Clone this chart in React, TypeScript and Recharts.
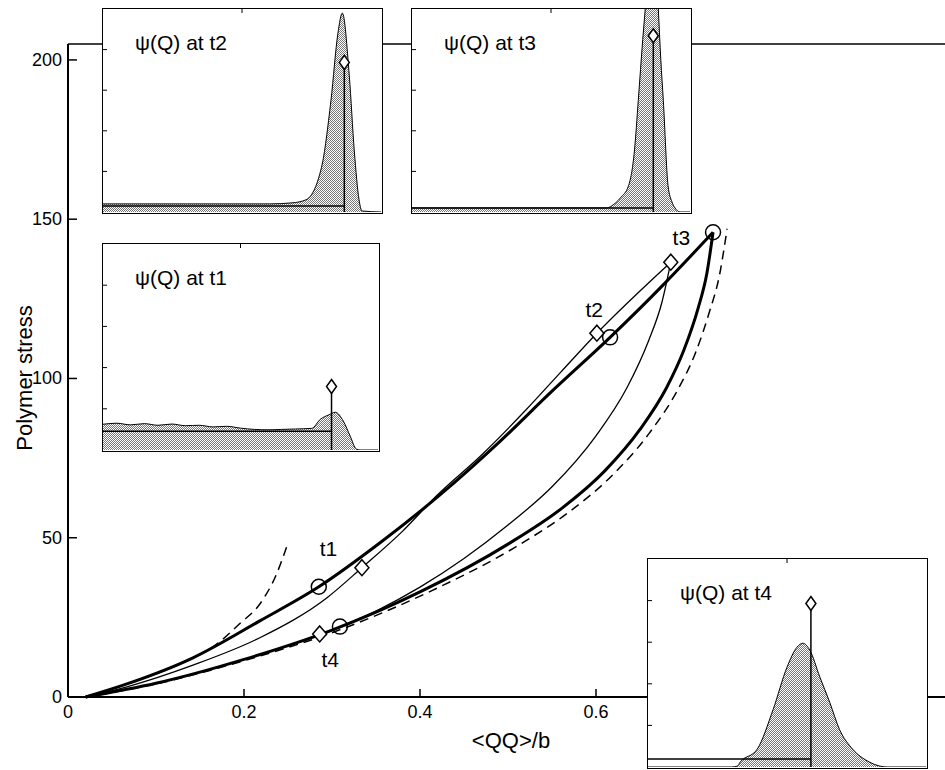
import { ComposedChart, AreaChart, Area, Line, Scatter, XAxis, YAxis, ReferenceLine, ReferenceDot } from "recharts";

const FONT = '"Liberation Sans", Arial, Helvetica, sans-serif';

// main panel: polymer stress against <QQ>/b
const xTicks = [0, 0.2, 0.4, 0.6, 0.8];
const yTicks = [0, 50, 100, 150, 200];

const thickUp = [
    { x: 0.02, y: 0 }, { x: 0.067, y: 4.1 }, { x: 0.142, y: 12.3 }, { x: 0.218, y: 23.9 },
    { x: 0.285, y: 34.6 }, { x: 0.355, y: 48.5 }, { x: 0.423, y: 63.5 }, { x: 0.49, y: 80 },
    { x: 0.55, y: 96 }, { x: 0.616, y: 112.9 }, { x: 0.675, y: 129 }, { x: 0.733, y: 145.9 },
];
const thickDown = [
    { x: 0.02, y: 0 }, { x: 0.1, y: 4.3 }, { x: 0.2, y: 11.8 }, { x: 0.3, y: 21 },
    { x: 0.4, y: 33 }, { x: 0.5, y: 48 }, { x: 0.56, y: 59 }, { x: 0.61, y: 71 },
    { x: 0.65, y: 84 }, { x: 0.68, y: 97 }, { x: 0.7, y: 109 }, { x: 0.716, y: 122 },
    { x: 0.726, y: 133 }, { x: 0.733, y: 145.9 },
];
const thinUp = [
    { x: 0.02, y: 0 }, { x: 0.067, y: 3.2 }, { x: 0.142, y: 10.0 }, { x: 0.218, y: 18.6 },
    { x: 0.294, y: 31.1 }, { x: 0.334, y: 40.6 }, { x: 0.38, y: 52 }, { x: 0.42, y: 63.5 },
    { x: 0.47, y: 76 }, { x: 0.52, y: 90 }, { x: 0.56, y: 102 }, { x: 0.601, y: 114.2 },
    { x: 0.685, y: 136.5 },
];
const thinDown = [
    { x: 0.02, y: 0 }, { x: 0.1, y: 4.3 }, { x: 0.2, y: 11.8 }, { x: 0.3, y: 21 },
    { x: 0.35, y: 27 }, { x: 0.4, y: 34.5 }, { x: 0.45, y: 43.5 }, { x: 0.5, y: 54 },
    { x: 0.55, y: 66 }, { x: 0.6, y: 82 }, { x: 0.635, y: 97 }, { x: 0.66, y: 112 },
    { x: 0.675, y: 124 }, { x: 0.685, y: 136.5 },
];
const dashedRight = [
    { x: 0.02, y: 0 }, { x: 0.1, y: 4.1 }, { x: 0.2, y: 11.4 }, { x: 0.303, y: 20.5 },
    { x: 0.405, y: 32.3 }, { x: 0.508, y: 47 }, { x: 0.569, y: 58 }, { x: 0.62, y: 70 },
    { x: 0.661, y: 83 }, { x: 0.692, y: 96 }, { x: 0.713, y: 108 }, { x: 0.729, y: 121 },
    { x: 0.74, y: 132 }, { x: 0.749, y: 147 },
];
const dashedLeft = [
    { x: 0.02, y: 0 }, { x: 0.067, y: 4.1 }, { x: 0.142, y: 12.3 }, { x: 0.169, y: 16.6 },
    { x: 0.195, y: 23 }, { x: 0.218, y: 29.2 }, { x: 0.237, y: 38.6 }, { x: 0.25, y: 48.4 },
];
const circles = [
    { x: 0.285, y: 34.6 }, { x: 0.616, y: 112.9 }, { x: 0.733, y: 145.9 }, { x: 0.309, y: 22.1 },
];
const diamonds = [
    { x: 0.334, y: 40.6 }, { x: 0.601, y: 114.2 }, { x: 0.685, y: 136.5 }, { x: 0.286, y: 19.8 },
];
const timeLabels = [
    { x: 0.296, y: 46.5, t: "t1" }, { x: 0.598, y: 121.4, t: "t2" },
    { x: 0.697, y: 144, t: "t3" }, { x: 0.298, y: 11.5, t: "t4" },
];

// insets: psi(Q) distributions, Q scaled to [0,1], psi scaled to box height
const psiT1 = [
    { q: 0, psi: 0.125 }, { q: 0.05, psi: 0.13 }, { q: 0.1, psi: 0.122 }, { q: 0.15, psi: 0.128 },
    { q: 0.2, psi: 0.12 }, { q: 0.25, psi: 0.126 }, { q: 0.3, psi: 0.118 }, { q: 0.35, psi: 0.12 },
    { q: 0.4, psi: 0.112 }, { q: 0.45, psi: 0.115 }, { q: 0.5, psi: 0.106 }, { q: 0.55, psi: 0.1 },
    { q: 0.6, psi: 0.098 }, { q: 0.65, psi: 0.1 }, { q: 0.7, psi: 0.102 }, { q: 0.759, psi: 0.105 },
    { q: 0.791, psi: 0.15 }, { q: 0.82, psi: 0.17 }, { q: 0.845, psi: 0.183 }, { q: 0.874, psi: 0.14 },
    { q: 0.899, psi: 0.067 }, { q: 0.921, psi: 0.005 }, { q: 0.935, psi: 0 }, { q: 1, psi: 0 },
];
const psiT2 = [
    { q: 0, psi: 0.04 }, { q: 0.3, psi: 0.04 }, { q: 0.6, psi: 0.04 }, { q: 0.68, psi: 0.045 },
    { q: 0.73, psi: 0.06 }, { q: 0.786, psi: 0.22 }, { q: 0.82, psi: 0.55 }, { q: 0.845, psi: 0.88 },
    { q: 0.861, psi: 0.98 }, { q: 0.886, psi: 0.67 }, { q: 0.904, psi: 0.3 }, { q: 0.921, psi: 0.06 },
    { q: 0.932, psi: 0.005 }, { q: 1, psi: 0 },
];
const psiT3 = [
    { q: 0, psi: 0.02 }, { q: 0.5, psi: 0.02 }, { q: 0.7, psi: 0.02 }, { q: 0.718, psi: 0.03 },
    { q: 0.75, psi: 0.07 }, { q: 0.779, psi: 0.13 }, { q: 0.8, psi: 0.3 }, { q: 0.814, psi: 0.55 },
    { q: 0.83, psi: 0.85 }, { q: 0.839, psi: 1.0 }, { q: 0.86, psi: 1.35 }, { q: 0.875, psi: 1.3 },
    { q: 0.886, psi: 1.0 }, { q: 0.895, psi: 0.75 }, { q: 0.904, psi: 0.55 }, { q: 0.921, psi: 0.13 },
    { q: 0.935, psi: 0.05 }, { q: 0.946, psi: 0.02 }, { q: 0.964, psi: 0 }, { q: 1, psi: 0 },
];
const psiT4 = [
    { q: 0, psi: 0 }, { q: 0.3, psi: 0 }, { q: 0.321, psi: 0.004 }, { q: 0.332, psi: 0.024 },
    { q: 0.393, psi: 0.086 }, { q: 0.45, psi: 0.276 }, { q: 0.5, psi: 0.48 }, { q: 0.536, psi: 0.576 },
    { q: 0.557, psi: 0.595 }, { q: 0.582, psi: 0.562 }, { q: 0.618, psi: 0.433 }, { q: 0.654, psi: 0.31 },
    { q: 0.689, psi: 0.18 }, { q: 0.736, psi: 0.086 }, { q: 0.796, psi: 0.024 }, { q: 0.832, psi: 0.005 },
    { q: 0.86, psi: 0 }, { q: 1, psi: 0 },
];
const insetTicks = [0.2, 0.4, 0.6, 0.8];

const fmtX = (v: number) => (v === 0 ? "0" : String(v));

const BottomTick = (p: any) => (
    <g>
        <line x1={p.x} y1={p.y} x2={p.x} y2={p.y - 8} stroke="#000" strokeWidth={1.5} />
        <text x={p.x} y={p.y + 21} textAnchor="middle" fontSize={18} fontFamily={FONT}>{fmtX(p.payload.value)}</text>
    </g>
);
const LeftTick = (p: any) => (
    <g>
        <line x1={p.x} y1={p.y} x2={p.x + 9} y2={p.y} stroke="#000" strokeWidth={1.5} />
        <text x={p.x - 6} y={p.y + 6} textAnchor="end" fontSize={18} fontFamily={FONT}>{p.payload.value}</text>
    </g>
);
const TopTick = (p: any) => (
    <line x1={p.x} y1={p.y} x2={p.x} y2={p.y + 6} stroke="#000" strokeWidth={1.2} />
);
const RightTick = (p: any) => (
    <line x1={p.x} y1={p.y} x2={p.x - 6} y2={p.y} stroke="#000" strokeWidth={1.2} />
);
const SmallTop = (p: any) => <line x1={p.x} y1={p.y} x2={p.x} y2={p.y + 4} stroke="#000" strokeWidth={1} />;
const SmallLeft = (p: any) => <line x1={p.x} y1={p.y} x2={p.x + 4} y2={p.y} stroke="#000" strokeWidth={1} />;
const SmallRight = (p: any) => <line x1={p.x} y1={p.y} x2={p.x - 4} y2={p.y} stroke="#000" strokeWidth={1} />;

const Circle = (p: any) => <circle cx={p.cx} cy={p.cy} r={7.5} fill="none" stroke="#000" strokeWidth={1.5} />;
const Diamond = (p: any) => (
    <path d={`M${p.cx},${p.cy - 8}L${p.cx + 7},${p.cy}L${p.cx},${p.cy + 8}L${p.cx - 7},${p.cy}Z`} fill="#fff" stroke="#000" strokeWidth={1.5} />
);
const SmallDiamond = (p: any) => (
    <path d={`M${p.cx},${p.cy - 7}L${p.cx + 5},${p.cy}L${p.cx},${p.cy + 7}L${p.cx - 5},${p.cy}Z`} fill="#fff" stroke="#000" strokeWidth={1.5} />
);
const TimeLabel = (p: any) => (
    <text x={p.cx} y={p.cy + 7} textAnchor="middle" fontSize={21} fontFamily={FONT}>{p.payload.t}</text>
);

function Inset({ id, left, top, width, height, title, data, qMark, psiMark, hLevel }: any) {
    return (
        <div style={{ position: "absolute", left, top, width, height, border: "1.5px solid #000", background: "#fff", boxSizing: "border-box" }}>
            <AreaChart width={width - 3} height={height - 3} data={data} margin={{ top: -1, right: -1, bottom: 0, left: -1 }}>
                <defs>
                    <pattern id={id} width={2} height={2} patternUnits="userSpaceOnUse">
                        <rect width={2} height={2} fill="#fff" />
                        <rect width={1} height={1} fill="#777" />
                        <rect x={1} y={1} width={1} height={1} fill="#777" />
                    </pattern>
                </defs>
                <XAxis dataKey="q" type="number" domain={[0, 1]} ticks={[0.5]} orientation="top" height={1}
                    tickSize={0} tickMargin={0} axisLine={false} tickLine={false} tick={SmallTop} />
                <YAxis domain={[0, 1]} allowDataOverflow ticks={insetTicks} width={1}
                    tickSize={0} tickMargin={0} axisLine={false} tickLine={false} tick={SmallLeft} />
                <YAxis yAxisId="r" orientation="right" domain={[0, 1]} ticks={insetTicks} width={1}
                    tickSize={0} tickMargin={0} axisLine={false} tickLine={false} tick={SmallRight} />
                <Area dataKey="psi" type="monotone" stroke="#000" strokeWidth={1} fill={`url(#${id})`} fillOpacity={1} isAnimationActive={false} />
                <ReferenceLine segment={[{ x: 0, y: hLevel }, { x: qMark, y: hLevel }]} stroke="#000" strokeWidth={1.5} />
                <ReferenceLine segment={[{ x: qMark, y: 0 }, { x: qMark, y: psiMark }]} stroke="#000" strokeWidth={1.5} />
                <ReferenceDot x={qMark} y={psiMark} shape={SmallDiamond} />
            </AreaChart>
            <div style={{ position: "absolute", left: 32, top: 22, fontSize: 21, fontFamily: FONT, whiteSpace: "nowrap" }}>{title}</div>
        </div>
    );
}

export default function App() {
    return (
        <div style={{ position: "fixed", left: 0, top: 0, width: 945, height: 770, overflow: "hidden", background: "#fff" }}>
            <ComposedChart width={960} height={770} margin={{ top: 43, right: 11, bottom: 72, left: 67 }}>
                <XAxis dataKey="x" type="number" domain={[0, 1]} ticks={xTicks} interval={0} height={1}
                    tickSize={0} tickMargin={0} tickLine={false} axisLine={{ stroke: "#000", strokeWidth: 2 }} tick={BottomTick} />
                <XAxis xAxisId="top" orientation="top" dataKey="x" type="number" domain={[0, 1]} ticks={xTicks} interval={0} height={1}
                    tickSize={0} tickMargin={0} tickLine={false} axisLine={{ stroke: "#000", strokeWidth: 1.5 }} tick={TopTick} />
                <YAxis type="number" domain={[0, 205]} ticks={yTicks} interval={0} width={1}
                    tickSize={0} tickMargin={0} tickLine={false} axisLine={{ stroke: "#000", strokeWidth: 2 }} tick={LeftTick} />
                <YAxis yAxisId="right" orientation="right" type="number" domain={[0, 205]} ticks={yTicks} interval={0} width={1}
                    tickSize={0} tickMargin={0} tickLine={false} axisLine={{ stroke: "#000", strokeWidth: 1.5 }} tick={RightTick} />

                <Line data={dashedRight} dataKey="y" type="monotone" stroke="#000" strokeWidth={1.5} strokeDasharray="9 6" dot={false} isAnimationActive={false} />
                <Line data={dashedLeft} dataKey="y" type="monotone" stroke="#000" strokeWidth={1.5} strokeDasharray="9 6" dot={false} isAnimationActive={false} />
                <Line data={thinUp} dataKey="y" type="monotone" stroke="#000" strokeWidth={1.3} dot={false} isAnimationActive={false} />
                <Line data={thinDown} dataKey="y" type="monotone" stroke="#000" strokeWidth={1.3} dot={false} isAnimationActive={false} />
                <Line data={thickUp} dataKey="y" type="monotone" stroke="#000" strokeWidth={3} dot={false} isAnimationActive={false} />
                <Line data={thickDown} dataKey="y" type="monotone" stroke="#000" strokeWidth={3} dot={false} isAnimationActive={false} />
                <Scatter data={diamonds} dataKey="y" shape={Diamond} isAnimationActive={false} />
                <Scatter data={circles} dataKey="y" shape={Circle} isAnimationActive={false} />
                <Scatter data={timeLabels} dataKey="y" shape={TimeLabel} isAnimationActive={false} />
            </ComposedChart>

            <div style={{ position: "absolute", left: 25, top: 378, transform: "translate(-50%, -50%) rotate(-90deg)", fontSize: 22, fontFamily: FONT, whiteSpace: "nowrap" }}>Polymer stress</div>
            <div style={{ position: "absolute", left: 511, top: 741, transform: "translate(-50%, -50%)", fontSize: 22, fontFamily: FONT, whiteSpace: "nowrap" }}>{"<QQ>/b"}</div>

            <Inset id="dotT2" left={102} top={8} width={281} height={206} title="ψ(Q) at t2" data={psiT2} qMark={0.868} psiMark={0.737} hLevel={0.03} />
            <Inset id="dotT3" left={411} top={8} width={281} height={206} title="ψ(Q) at t3" data={psiT3} qMark={0.868} psiMark={0.868} hLevel={0.02} />
            <Inset id="dotT1" left={102} top={243} width={278} height={209} title="ψ(Q) at t1" data={psiT1} qMark={0.831} psiMark={0.308} hLevel={0.091} />
            <Inset id="dotT4" left={647} top={558} width={281} height={211} title="ψ(Q) at t4" data={psiT4} qMark={0.586} psiMark={0.786} hLevel={0.038} />
        </div>
    );
}
